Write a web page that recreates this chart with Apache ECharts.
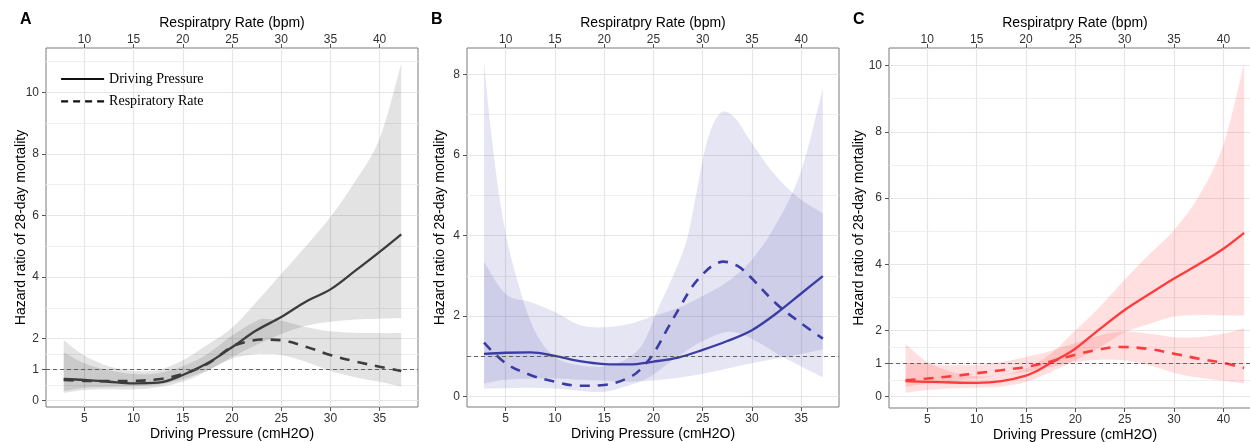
<!DOCTYPE html>
<html><head><meta charset="utf-8">
<script src="https://cdn.jsdelivr.net/npm/echarts@6/dist/echarts.min.js"></script>
<style>html,body{margin:0;padding:0;background:#fff}#c{width:1250px;height:442px}</style>
</head><body><div id="c"></div>
<script>
// ===================== DATA =====================
// Tick values / labels
const dpTicks = [5, 10, 15, 20, 25, 30, 35];
const dpTickLabelsA = ['5', '10', '15', '20', '25', '30', '35'];
const dpTickLabelsB = ['5', '10', '15', '20', '25', '30', '35'];
const dpTickLabelsC = ['5', '10', '15', '20', '25', '30', '40'];
const rrTicks = [10, 15, 20, 25, 30, 35, 40];
const yTicksA = [0, 1, 2, 4, 6, 8, 10];
const yMinorA = [0.5, 1.5, 3, 5, 7, 9, 11];
const yTicksB = [0, 2, 4, 6, 8];
const yMinorB = [1, 3, 5, 7];
const yTicksC = [0, 1, 2, 4, 6, 8, 10];
const yMinorC = [0.5, 1.5, 3, 5, 7, 9];

// ---- Panel A (driving pressure x in cmH2O, respiratory rate x in bpm) ----
const dpX_A = [2.9, 5, 7.5, 10, 12.5, 15, 17.5, 20, 22.5, 25, 27.5, 30, 32.5, 35, 37.2];
const dpHR_A = [0.69, 0.66, 0.6, 0.55, 0.57, 0.82, 1.2, 1.72, 2.27, 2.7, 3.2, 3.6, 4.2, 4.82, 5.39];
const dpLo_A = [0.23, 0.33, 0.36, 0.35, 0.42, 0.6, 0.95, 1.4, 1.8, 2.15, 2.42, 2.55, 2.62, 2.65, 2.66];
const dpHi_A = [1.96, 1.45, 1.1, 0.95, 0.98, 1.3, 1.8, 2.35, 3.2, 4.1, 5.0, 5.95, 7.1, 8.5, 10.94];
const rrX_A = [7.9, 10, 12.5, 15, 17.5, 20, 22.5, 25, 26.5, 28, 30, 32.5, 35, 37.5, 40, 42.2];
const rrHR_A = [0.66, 0.63, 0.62, 0.63, 0.68, 0.85, 1.18, 1.74, 1.9, 1.97, 1.95, 1.74, 1.47, 1.26, 1.09, 0.95];
const rrBandX_A = [7.9, 10, 12.5, 15, 17.5, 20, 22.5, 25, 27.5, 28.5, 30, 32.5, 35, 37.5, 40, 42.2];
const rrLo_A = [0.3, 0.4, 0.43, 0.45, 0.5, 0.68, 0.97, 1.35, 1.5, 1.5, 1.47, 1.25, 0.95, 0.75, 0.6, 0.44];
const rrHi_A = [1.56, 1.2, 0.97, 0.85, 0.88, 1.1, 1.5, 2.1, 2.58, 2.64, 2.58, 2.38, 2.24, 2.19, 2.18, 2.18];

// ---- Panel B ----
const dpX_B = [2.8, 5, 7.5, 10, 12.5, 15, 17.5, 20, 22.5, 25, 27.5, 30, 32.5, 35, 37.2];
const dpHR_B = [1.06, 1.09, 1.1, 1.01, 0.88, 0.81, 0.8, 0.87, 0.97, 1.16, 1.38, 1.65, 2.07, 2.56, 2.99];
const dpLo_B = [0.33, 0.42, 0.45, 0.45, 0.42, 0.4, 0.37, 0.4, 0.47, 0.57, 0.7, 0.83, 0.95, 1.06, 1.17];
const dpHi_B = [3.35, 2.55, 2.35, 2.1, 1.78, 1.72, 1.8, 2.0, 2.2, 2.5, 2.85, 3.4, 4.3, 5.6, 7.65];
const rrX_B = [7.8, 10, 12.5, 15, 17.5, 20, 22.5, 23.6, 25, 26.5, 27.7, 29, 30.1, 31, 32.1, 33.5, 34.8, 37.5, 40, 42.2];
const rrHR_B = [1.34, 0.83, 0.54, 0.37, 0.27, 0.29, 0.47, 0.66, 1.07, 1.72, 2.23, 2.75, 3.06, 3.25, 3.35, 3.25, 2.98, 2.3, 1.82, 1.44];
const rrHiX_B = [7.8, 8.5, 9.4, 10.4, 12.1, 13.5, 15.2, 17.5, 20, 22, 23.6, 24.5, 25.5, 27, 28.4, 29.4, 30.4, 31.5, 32.4, 33.5, 34.8, 37.2, 39.6, 42.2];
const rrHi_B = [8.3, 6.6, 4.9, 3.6, 2.15, 1.4, 0.95, 0.78, 0.75, 0.9, 1.2, 1.6, 2.2, 3.0, 3.9, 5.1, 6.3, 6.95, 7.07, 6.85, 6.36, 5.54, 4.96, 4.55];
const rrLoX_B = [7.8, 10, 12.5, 15, 17.5, 20, 22.5, 23.6, 25, 27.5, 30, 32.3, 34, 36, 38, 40, 42.2];
const rrLo_B = [0.2, 0.21, 0.22, 0.2, 0.15, 0.12, 0.28, 0.37, 0.55, 1.0, 1.38, 1.6, 1.55, 1.3, 1.0, 0.75, 0.48];

// ---- Panel C ----
const dpX_C = [2.8, 5, 7.5, 10, 12.5, 15, 16.25, 17.5, 18.75, 20, 22.5, 25, 27.5, 30, 32.5, 35, 37.1];
const dpHR_C = [0.47, 0.45, 0.43, 0.42, 0.47, 0.64, 0.8, 1.02, 1.22, 1.45, 2.05, 2.62, 3.1, 3.57, 4.0, 4.47, 4.95];
const dpBandX_C = [2.8, 5, 7.5, 10, 12.5, 15, 17.5, 20, 22.5, 25, 27.5, 30, 32.5, 35, 37.1];
const dpLo_C = [0.12, 0.2, 0.25, 0.27, 0.3, 0.45, 0.75, 1.1, 1.5, 1.95, 2.2, 2.42, 2.47, 2.46, 2.45];
const dpHi_C = [1.6, 1.05, 0.75, 0.62, 0.65, 0.85, 1.3, 2.0, 2.72, 3.53, 4.3, 5.03, 6.05, 7.6, 10.07];
const rrX_C = [7.8, 10, 12.5, 15, 17.5, 20, 22.5, 25, 27.5, 29.2, 30, 32.5, 35, 37.5, 40, 42.1];
const rrHR_C = [0.5, 0.55, 0.62, 0.71, 0.8, 0.9, 1.06, 1.27, 1.43, 1.5, 1.5, 1.44, 1.3, 1.15, 1.02, 0.87];
const rrBandX_C = [7.8, 10, 12.5, 15, 17.5, 20, 22.5, 25, 27.5, 30, 32.5, 35, 37.5, 40, 42.1];
const rrLo_C = [0.3, 0.4, 0.48, 0.55, 0.65, 0.75, 0.9, 1.05, 1.12, 1.1, 0.95, 0.72, 0.58, 0.48, 0.4];
const rrHi_C = [1.01, 0.98, 0.95, 0.96, 1.05, 1.2, 1.38, 1.62, 1.85, 1.97, 1.9, 1.8, 1.8, 1.9, 2.07];

const refHR = 1;

// ===================== CHART =====================
const FONT = "'Liberation Sans', Arial, Helvetica, sans-serif";
const chart = echarts.init(document.getElementById('c'), null, {renderer: 'canvas'});

function smoothSeg(pts) {
  let d = '';
  for (let i = 0; i < pts.length - 1; i++) {
    const p0 = pts[Math.max(i - 1, 0)], p1 = pts[i], p2 = pts[i + 1], p3 = pts[Math.min(i + 2, pts.length - 1)];
    const c1x = p1[0] + (p2[0] - p0[0]) / 6, c1y = p1[1] + (p2[1] - p0[1]) / 6;
    const c2x = p2[0] - (p3[0] - p1[0]) / 6, c2y = p2[1] - (p3[1] - p1[1]) / 6;
    d += ' C' + c1x + ',' + c1y + ' ' + c2x + ',' + c2y + ' ' + p2[0] + ',' + p2[1];
  }
  return d;
}
function ribbon(xi, yi, xHi, hi, xLo, lo, fill) {
  const data = xHi.map((x, i) => [x, hi[i]]).concat(xLo.map((x, i) => [x, lo[i]]));
  return {
    type: 'custom', xAxisIndex: xi, yAxisIndex: yi, silent: true, z: 1,
    data: data, encode: {x: 0, y: 1},
    renderItem: function (params, api) {
      if (params.dataIndex !== 0) return null;
      const up = xHi.map((x, i) => api.coord([x, hi[i]]));
      const dn = xLo.map((x, i) => api.coord([x, lo[i]])).reverse();
      const d = 'M' + up[0][0] + ',' + up[0][1] + smoothSeg(up) +
        ' L' + dn[0][0] + ',' + dn[0][1] + smoothSeg(dn) + ' Z';
      return {type: 'path', shape: {pathData: d}, style: {fill: fill, stroke: null}};
    }
  };
}

const panels = [
  {grid: {left: 46, top: 48, width: 372, height: 359}, xr: [1.1, 38.9], yr: [-0.22, 11.44], yGap: 18.3,
   yTicks: yTicksA, yMinor: yMinorA, dpLabels: dpTickLabelsA,
   line: '#3c3c3c', fill: 'rgba(0,0,0,0.11)',
   dp: [dpX_A, dpHR_A], rr: [rrX_A, rrHR_A],
   dpBand: [dpX_A, dpHi_A, dpX_A, dpLo_A], rrBand: [rrBandX_A, rrHi_A, rrBandX_A, rrLo_A],
   names: ['Driving Pressure', 'Respiratory Rate']},
  {grid: {left: 467, top: 48, width: 372, height: 359}, xr: [1.07, 38.84], yr: [-0.256, 8.65], yGap: 20,
   yTicks: yTicksB, yMinor: yMinorB, dpLabels: dpTickLabelsB,
   line: '#3b3ba6', fill: 'rgba(59,59,166,0.135)',
   dp: [dpX_B, dpHR_B], rr: [rrX_B, rrHR_B],
   dpBand: [dpX_B, dpHi_B, dpX_B, dpLo_B], rrBand: [rrHiX_B, rrHi_B, rrLoX_B, rrLo_B],
   names: ['Driving Pressure B', 'Respiratory Rate B']},
  {grid: {left: 889, top: 48, width: 372, height: 360}, xr: [1.12, 38.81], yr: [-0.34, 10.53], yGap: 22.8,
   yTicks: yTicksC, yMinor: yMinorC, dpLabels: dpTickLabelsC,
   line: '#ff3b3b', fill: 'rgba(255,59,59,0.165)',
   dp: [dpX_C, dpHR_C], rr: [rrX_C, rrHR_C],
   dpBand: [dpBandX_C, dpHi_C, dpBandX_C, dpLo_C], rrBand: [rrBandX_C, rrHi_C, rrBandX_C, rrLo_C],
   names: ['Driving Pressure C', 'Respiratory Rate C']}
];

const grids = [], xAxes = [], yAxes = [], series = [];
const tickStyle = {show: true, length: 4, lineStyle: {color: '#555', width: 1}};
const labelStyle = {color: '#333', fontSize: 12, fontFamily: FONT};
const nameStyle = {color: '#000', fontSize: 14, fontFamily: FONT};

panels.forEach((p, i) => {
  grids.push(Object.assign({show: true, borderColor: '#7a7a7a', borderWidth: 1, backgroundColor: 'transparent',
    containLabel: false, outerBoundsMode: 'none'}, p.grid));
  // bottom: driving pressure
  xAxes.push({
    type: 'value', gridIndex: i, position: 'bottom', min: p.xr[0], max: p.xr[1],
    name: 'Driving Pressure (cmH2O)', nameLocation: 'middle', nameGap: 20, nameMoveOverlap: false, nameTextStyle: nameStyle,
    axisLine: {show: false, onZero: false},
    axisTick: Object.assign({customValues: dpTicks}, tickStyle),
    axisLabel: Object.assign({customValues: dpTicks, margin: 6,
      formatter: v => { const k = dpTicks.indexOf(v); return k >= 0 ? p.dpLabels[k] : String(v); }}, labelStyle),
    splitLine: {show: true, lineStyle: {color: '#e6e6e6', width: 1.2}}
  });
  // top: respiratory rate
  xAxes.push({
    type: 'value', gridIndex: i, position: 'top', min: p.xr[0] + 5, max: p.xr[1] + 5,
    name: 'Respiratpry Rate (bpm)', nameLocation: 'middle', nameGap: 18, nameMoveOverlap: false, nameTextStyle: nameStyle,
    axisLine: {show: false, onZero: false},
    axisTick: Object.assign({customValues: rrTicks}, tickStyle),
    axisLabel: Object.assign({customValues: rrTicks, margin: 2}, labelStyle),
    splitLine: {show: false}
  });
  // y major
  yAxes.push({
    type: 'value', gridIndex: i, position: 'left', min: p.yr[0], max: p.yr[1],
    name: 'Hazard ratio of 28-day mortality', nameLocation: 'middle', nameGap: p.yGap, nameMoveOverlap: false, nameTextStyle: nameStyle,
    axisLine: {show: false, onZero: false},
    axisTick: Object.assign({customValues: p.yTicks}, tickStyle),
    axisLabel: Object.assign({customValues: p.yTicks, margin: 7}, labelStyle),
    splitLine: {show: true, lineStyle: {color: '#e6e6e6', width: 1.2}}
  });
  // y minor grid lines
  yAxes.push({
    type: 'value', gridIndex: i, position: 'left', min: p.yr[0], max: p.yr[1],
    axisLine: {show: false, onZero: false},
    axisTick: {show: false, customValues: p.yMinor},
    axisLabel: {show: false, customValues: p.yMinor},
    splitLine: {show: true, lineStyle: {color: '#efefef', width: 1}}
  });

  const xb = 2 * i, xt = 2 * i + 1, ym = 2 * i;
  series.push(ribbon(xb, ym, p.dpBand[0], p.dpBand[1], p.dpBand[2], p.dpBand[3], p.fill));
  series.push(ribbon(xt, ym, p.rrBand[0], p.rrBand[1], p.rrBand[2], p.rrBand[3], p.fill));
  series.push({
    type: 'line', name: p.names[0], xAxisIndex: xb, yAxisIndex: ym, z: 3,
    data: p.dp[0].map((x, k) => [x, p.dp[1][k]]),
    smooth: 0.35, symbol: 'none', silent: true,
    lineStyle: {color: p.line, width: 2.3}, itemStyle: {color: p.line},
    markLine: {silent: true, symbol: 'none', label: {show: false}, animation: false,
      lineStyle: {color: '#555', width: 0.9, type: [4, 3]}, data: [{yAxis: refHR}]}
  });
  series.push({
    type: 'line', name: p.names[1], xAxisIndex: xt, yAxisIndex: ym, z: 3,
    data: p.rr[0].map((x, k) => [x, p.rr[1][k]]),
    smooth: 0.35, symbol: 'none', silent: true,
    lineStyle: {color: p.line, width: 2.6, type: [10, 8]}, itemStyle: {color: p.line}
  });
});

chart.setOption({
  animation: false,
  backgroundColor: '#fff',
  grid: grids, xAxis: xAxes, yAxis: yAxes, series: series,
  legend: {
    orient: 'vertical', left: 60, top: 72, padding: 0, itemGap: 8.4,
    itemWidth: 43, itemHeight: 14, selectedMode: false,
    textStyle: {fontFamily: "'Liberation Serif', 'Times New Roman', serif", fontSize: 14, color: '#000'},
    itemStyle: {opacity: 0},
    data: [
      {name: 'Driving Pressure', lineStyle: {color: '#111', width: 2, type: 'solid'}},
      {name: 'Respiratory Rate', lineStyle: {color: '#111', width: 2.2, type: [7, 5]}}
    ]
  },
  graphic: [
    {type: 'text', left: 20, top: 12, style: {text: 'A', font: "bold 16px 'Liberation Sans', Arial, sans-serif", fill: '#000'}},
    {type: 'text', left: 431, top: 12, style: {text: 'B', font: "bold 16px 'Liberation Sans', Arial, sans-serif", fill: '#000'}},
    {type: 'text', left: 853, top: 12, style: {text: 'C', font: "bold 16px 'Liberation Sans', Arial, sans-serif", fill: '#000'}}
  ]
});
</script></body></html>
